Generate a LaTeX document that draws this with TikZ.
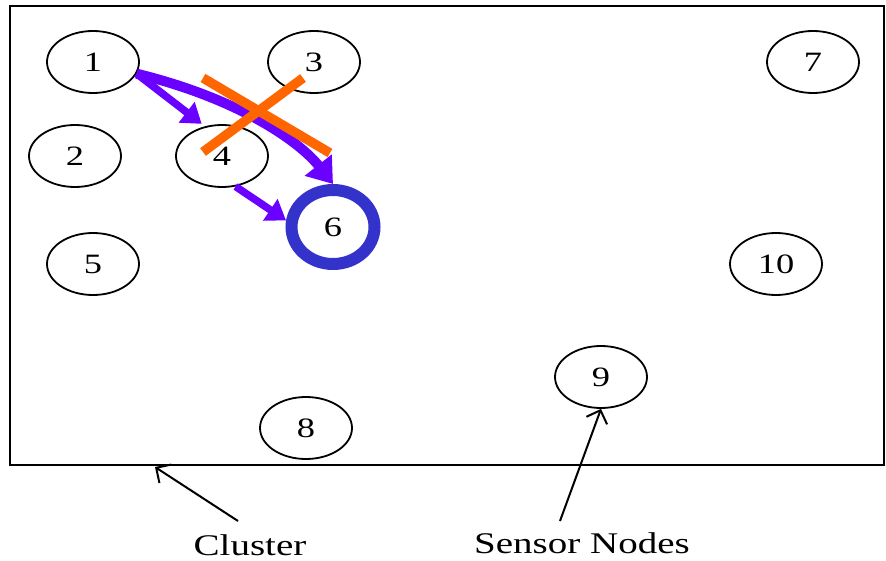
\documentclass[tikz,border=0pt]{standalone}
\usepackage{graphicx}
\usepackage{fontspec}
\setmainfont{Liberation Serif}
\usetikzlibrary{arrows.meta,shapes.geometric}

\definecolor{linkpurple}{HTML}{6A00FF}
\definecolor{headblue}{HTML}{3333CC}
\definecolor{crossorange}{HTML}{FF6600}

% wide serif lettering
\newcommand{\widetext}[1]{\scalebox{1.3}[1]{#1}}

\begin{document}
\begin{tikzpicture}[x=1pt,y=-1pt,
  sensor/.style={draw, ellipse, line width=1.8pt, minimum width=92pt,
    minimum height=62pt, inner sep=0pt,
    font=\fontsize{28}{28}\selectfont},
  headnode/.style={draw=headblue, ellipse, line width=12pt, minimum width=83pt,
    minimum height=74pt, inner sep=0pt,
    font=\fontsize{28}{28}\selectfont},
  hop/.style={draw=linkpurple, line width=7.5pt,
    -{Triangle[length=19pt,width=25pt]}},
  bighop/.style={draw=linkpurple, line width=10pt,
    -{Triangle[length=24pt,width=33pt]}},
  cut/.style={draw=crossorange, line width=9.5pt},
  pointer/.style={draw, line width=2pt, -{Straight Barb[length=11pt,width=22pt]}},
  caption/.style={font=\fontsize{30}{30}\selectfont, inner sep=0pt, anchor=base}
]
\useasboundingbox (0,0) rectangle (886,561);

% cluster boundary
\draw[line width=2pt] (10,6) rectangle (884,465);

% sensor nodes
\node[sensor] (n1)  at (93,62)   {\widetext{1}};
\node[sensor] (n3)  at (314,62)  {\widetext{3}};
\node[sensor] (n7)  at (813,62)  {\widetext{7}};
\node[sensor] (n2)  at (75,156)  {\widetext{2}};
\node[sensor] (n4)  at (222,156) {\widetext{4}};
\node[sensor] (n5)  at (93,264)  {\widetext{5}};
\node[sensor] (n10) at (776,264) {\widetext{10}};
\node[sensor] (n9)  at (601,377) {\widetext{9}};
\node[sensor] (n8)  at (306,428) {\widetext{8}};
\node[headnode] (n6) at (333,227) {\widetext{6}};

% routing hops
\draw[hop, shorten >=4pt] (n1.-15) -- (n4.120);
\draw[bighop] (n1.-15) .. controls (240,99) and (300,142) .. (n6.north);
\draw[hop] (n4.-66) -- (n6.172);

% broken link marker
\draw[cut] (203,78) -- (330,153);
\draw[cut] (303,78) -- (203,152);

% captions
\node[caption] (cluster) at (250,555) {\widetext{Cluster}};
\node[caption] (sensors) at (582,553) {\widetext{Sensor Nodes}};
\coordinate (frameedge) at (155,467);
\coordinate (clustertail) at (238,521);
\coordinate (sensortail) at (560,521);
\draw[pointer] (clustertail) -- (frameedge);
\draw[pointer] (sensortail) -- (n9.south);
\end{tikzpicture}
\end{document}
